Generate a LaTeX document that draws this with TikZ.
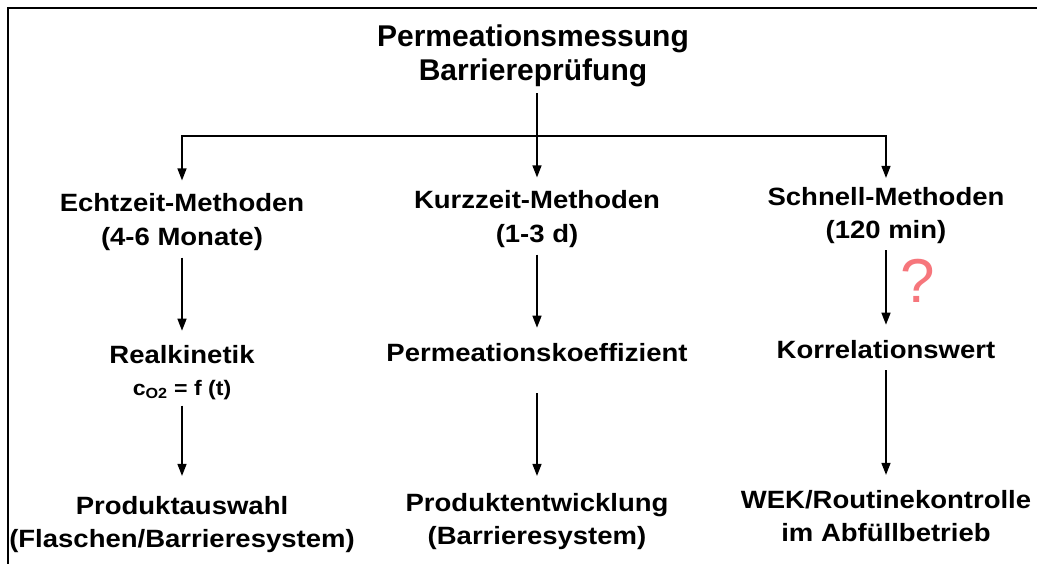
\documentclass[tikz,border=0pt]{standalone}
\usepackage{fontspec}
\setmainfont{Liberation Sans}
\newfontfamily\labfont[FakeStretch=1.1]{Liberation Sans}
\usetikzlibrary{arrows.meta}
\definecolor{qpink}{RGB}{246,118,124}
\tikzset{
  lab/.style={align=center, inner sep=0pt, font=\labfont\bfseries\fontsize{25}{33.5}\selectfont},
  ttl/.style={align=center, inner sep=0pt, font=\bfseries\fontsize{30}{34}\selectfont},
  frm/.style={inner sep=0pt, font=\labfont\bfseries\fontsize{21}{21}\selectfont},
  arr/.style={-{Triangle[length=12pt,width=9pt]}, line width=1.5pt},
}
\begin{document}
\begin{tikzpicture}[x=1pt,y=-1pt]
\useasboundingbox (0,0) rectangle (1037,564);
\fill[white] (0,0) rectangle (1037,564);
% frame (top and left edges)
\draw[line width=2.6pt] (1037,8) -| (8,564);

% title
\node[ttl] (t) at (533,56) {Permeationsmessung\\Barriereprüfung};

% row 1
\node[lab] (e1) at (182,222) {Echtzeit-Methoden\\(4-6 Monate)};
\node[lab] (k1) at (537,219) {Kurzzeit-Methoden\\(1-3 d)};
\node[lab] (s1) at (886,215.5) {Schnell-Methoden\\(120 min)};

% row 2
\node[lab, anchor=base] (e2) at (182,363) {Realkinetik};
\node[frm, anchor=base] (e2b) at (182,395) {c\textsubscript{O2} = f (t)};
\node[lab, anchor=base] (k2) at (537,361) {Permeationskoeffizient};
\node[lab, anchor=base] (s2) at (886,358) {Korrelationswert};

% row 3
\node[lab] (e3) at (182,524.5) {Produktauswahl\\(Flaschen/Barrieresystem)};
\node[lab] (k3) at (537,521.5) {Produktentwicklung\\(Barrieresystem)};
\node[lab] (s3) at (886,516) {WEK/Routinekontrolle\\im Abfüllbetrieb};

% question mark
\node[inner sep=0pt, text=qpink, font=\fontsize{62}{62}\selectfont] (q) at (918,281) {?};

% connectors
\coordinate (br) at (537,136);
\draw[arr, shorten <=6pt, shorten >=13pt] (t.south -| k1.north) -- (k1.north);
\draw[arr, shorten >=13pt] (br) -| (e1);
\draw[arr, shorten >=9pt] (br) -| (s1);

\draw[arr, shorten <=7pt, shorten >=14pt] (e1) -- (e2);
\draw[arr, shorten <=6pt, shorten >=20pt] (e2b) -- (e3);

\draw[arr, shorten <=7pt, shorten >=15pt] (k1) -- (k2);
\draw[arr, shorten <=32pt, shorten >=17pt] (k2) -- (k3);

\draw[arr, shorten <=6pt, shorten >=15pt] (s1) -- (s2);
\draw[arr, shorten <=12pt, shorten >=15pt] (s2) -- (s3);
\end{tikzpicture}
\end{document}
